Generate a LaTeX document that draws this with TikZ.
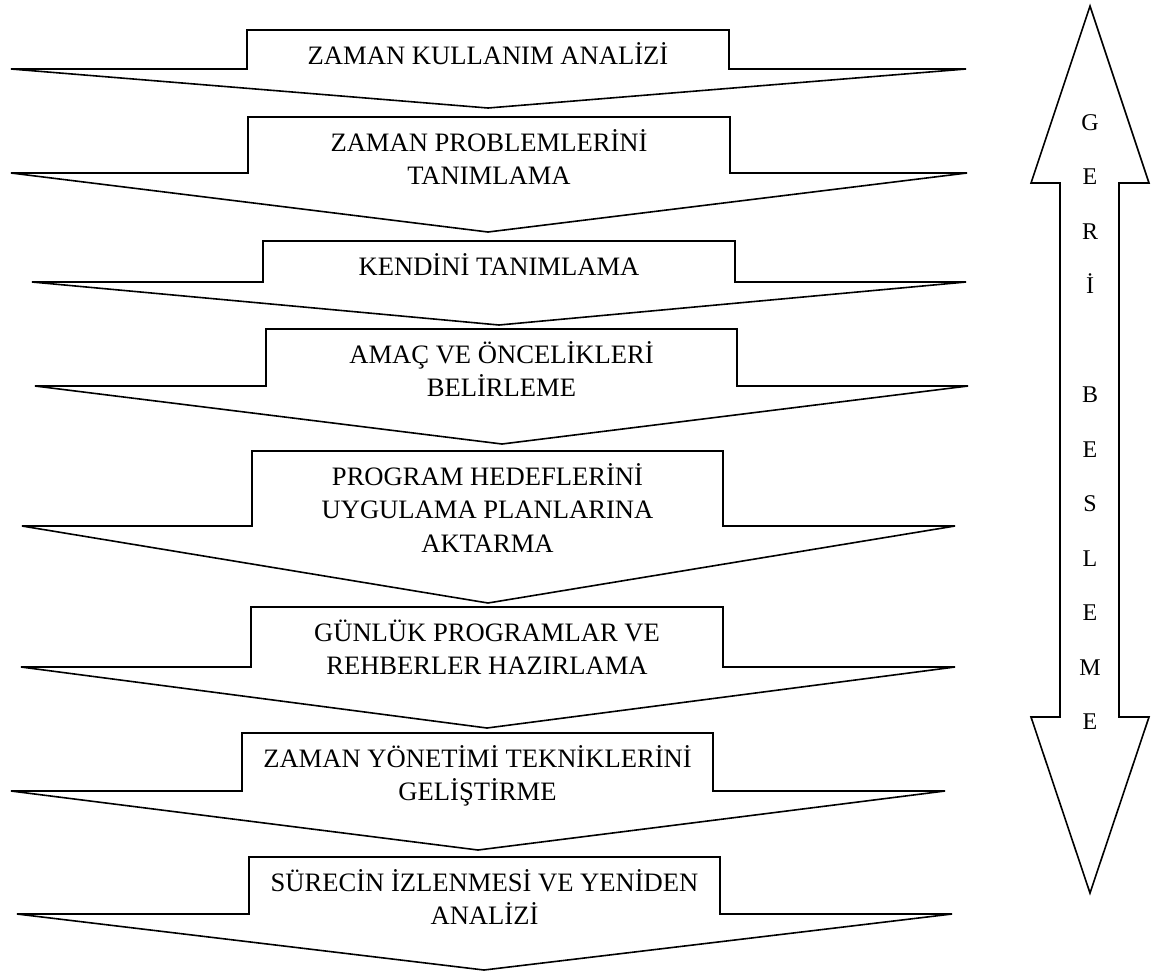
\documentclass[tikz,border=0pt]{standalone}
\usepackage{fontspec}
\setmainfont{Liberation Serif}
\usepackage{tikz}

\tikzset{
	callout/.style={draw, line width=0.8pt},
	calltext/.style={anchor=north, inner sep=0pt, align=center, font=\fontsize{13.3}{16.75}\selectfont},
	feedtext/.style={inner sep=0pt, align=center, font=\fontsize{12}{27.25}\selectfont}
}

\begin{document}
\begin{tikzpicture}[x=0.5pt,y=-0.5pt]
			\useasboundingbox (0,0) rectangle (1163,971);
			
			\draw[callout] (247,30) -- (729,30) -- (729,69) -- (966,69) -- (488,108) -- (11,69) -- (247,69) -- cycle;
			\node[calltext] (kullanim) at (488,40.5) {\strut ZAMAN KULLANIM ANALİZİ};
			
			\draw[callout] (248,117) -- (730,117) -- (730,173) -- (967,173) -- (488,232) -- (11,173) -- (248,173) -- cycle;
			\node[calltext] (problem) at (489,127.5) {\strut ZAMAN PROBLEMLERİNİ\\TANIMLAMA};
			
			\draw[callout] (263,241) -- (735,241) -- (735,282) -- (966,282) -- (499,325) -- (32,282) -- (263,282) -- cycle;
			\node[calltext] (kendini) at (499,251.5) {\strut KENDİNİ TANIMLAMA};
			
			\draw[callout] (266,329) -- (737,329) -- (737,386) -- (968,386) -- (502,444) -- (35,386) -- (266,386) -- cycle;
			\node[calltext] (amac) at (501.5,339.5) {\strut AMAÇ VE ÖNCELİKLERİ\\BELİRLEME};
			
			\draw[callout] (252,451) -- (723,451) -- (723,526) -- (955,526) -- (488,603) -- (22,526) -- (252,526) -- cycle;
			\node[calltext] (hedef) at (487.5,461.5) {\strut PROGRAM HEDEFLERİNİ\\UYGULAMA PLANLARINA\\AKTARMA};
			
			\draw[callout] (251,607) -- (723,607) -- (723,667) -- (955,667) -- (487,728) -- (21,667) -- (251,667) -- cycle;
			\node[calltext] (gunluk) at (487,617.5) {\strut GÜNLÜK PROGRAMLAR VE\\REHBERLER HAZIRLAMA};
			
			\draw[callout] (242,733) -- (713,733) -- (713,791) -- (945,791) -- (478,850) -- (11,791) -- (242,791) -- cycle;
			\node[calltext] (teknik) at (477.5,743.5) {\strut ZAMAN YÖNETİMİ TEKNİKLERİNİ\\GELİŞTİRME};
			
			\draw[callout] (249,857) -- (720,857) -- (720,914) -- (952,914) -- (484,970) -- (17,914) -- (249,914) -- cycle;
			\node[calltext] (izleme) at (484.5,867.5) {\strut SÜRECİN İZLENMESİ VE YENİDEN\\ANALİZİ};
			
			\draw[callout] (1090,6) -- (1149,183) -- (1119,183) -- (1119,717) -- (1149,717) -- (1090,893) -- (1031,717) -- (1060,717) -- (1060,183) -- (1031,183) -- cycle;
			\node[feedtext] (geribesleme) at (1090,422) {G\\E\\R\\İ\\[27.25pt]B\\E\\S\\L\\E\\M\\E};
		\end{tikzpicture}
\end{document}
